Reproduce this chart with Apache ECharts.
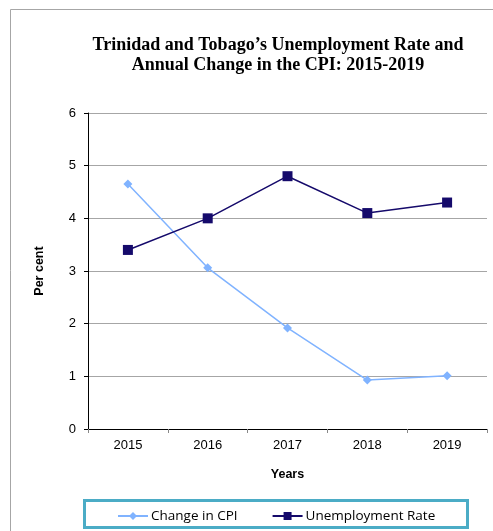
<!DOCTYPE html>
<html><head><meta charset="utf-8">
<script src="https://cdn.jsdelivr.net/npm/echarts@6/dist/echarts.min.js"></script>
<style>html,body{margin:0;padding:0;background:#fff}#c{width:493px;height:531px}</style>
</head><body><div id="c"></div>
<script>
var years = ['2015', '2016', '2017', '2018', '2019'];
var cpiChange = [4.65, 3.06, 1.92, 0.93, 1.01];
var unemployment = [3.4, 4.0, 4.8, 4.1, 4.3];
var yTicks = [0, 1, 2, 3, 4, 5, 6];

var chart = echarts.init(document.getElementById('c'), null, {renderer: 'canvas'});
chart.setOption({
  animation: false,
  backgroundColor: '#fff',
  title: {
    text: 'Trinidad and Tobago\u2019s Unemployment Rate and\nAnnual Change in the CPI: 2015-2019',
    left: 273, top: 30, textAlign: 'center',
    textStyle: {fontFamily: 'Liberation Serif', fontWeight: 'bold', fontSize: 18, lineHeight: 20, color: '#000'}
  },
  graphic: [
    {type: 'rect', shape: {x: 10.5, y: 9.5, width: 600, height: 600}, style: {fill: null, stroke: '#a6a6a6', lineWidth: 1}, silent: true},
    {type: 'rect', shape: {x: 84.5, y: 500.5, width: 383, height: 27}, style: {fill: '#fff', stroke: '#4bacc6', lineWidth: 3}, silent: true, z: 0}
  ],
  legend: {
    left: 112, top: 504, itemWidth: 30, itemHeight: 10, itemGap: 34,
    textStyle: {fontFamily: 'Open Sans', fontSize: 13.5, color: '#000', padding: [0,0,0,-2]},
    data: ['Change in CPI', 'Unemployment Rate'],
    z: 10
  },
  grid: {left: 88, right: 6, top: 113, bottom: 102},
  xAxis: {
    type: 'category', data: years, boundaryGap: true,
    name: 'Years', nameLocation: 'middle', nameGap: 39,
    nameTextStyle: {fontFamily: 'Liberation Sans', fontWeight: 'bold', fontSize: 12.5, color: '#000'},
    axisLine: {lineStyle: {color: '#000', width: 1}},
    axisTick: {show: true, alignWithLabel: false, length: 4, lineStyle: {color: '#888'}},
    axisLabel: {fontFamily: 'Liberation Sans', fontSize: 13, color: '#000', margin: 10}
  },
  yAxis: {
    type: 'value', min: yTicks[0], max: yTicks[yTicks.length-1], interval: 1,
    name: 'Per cent', nameLocation: 'middle', nameGap: 42, nameRotate: 90,
    nameTextStyle: {fontFamily: 'Liberation Sans', fontWeight: 'bold', fontSize: 12.5, color: '#000'},
    axisLine: {show: true, lineStyle: {color: '#000', width: 1}},
    axisTick: {show: true, length: 4, lineStyle: {color: '#000'}},
    axisLabel: {fontFamily: 'Liberation Sans', fontSize: 13, color: '#000', margin: 12},
    splitLine: {lineStyle: {color: '#a6a6a6', width: 1}}
  },
  series: [
    {name: 'Change in CPI', type: 'line', data: cpiChange,
     symbol: 'diamond', symbolSize: 9,
     lineStyle: {color: '#80b3ff', width: 1.5},
     itemStyle: {color: '#80b3ff'}},
    {name: 'Unemployment Rate', type: 'line', data: unemployment,
     symbol: 'rect', symbolSize: 10,
     lineStyle: {color: '#150a6b', width: 1.5},
     itemStyle: {color: '#150a6b'}}
  ]
});
</script></body></html>
